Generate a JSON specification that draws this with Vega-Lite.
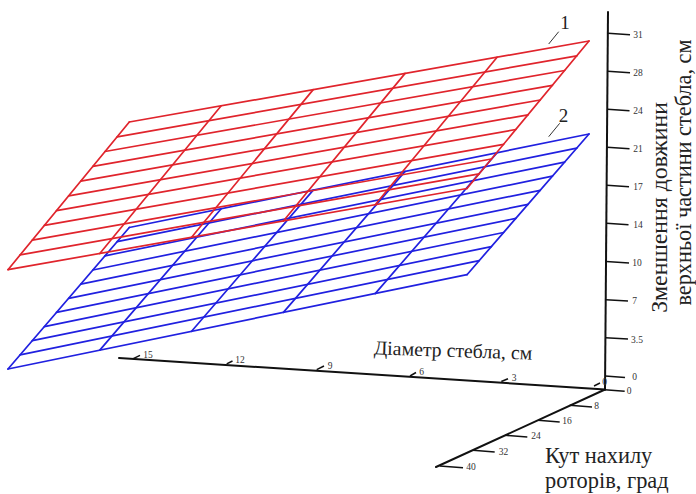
{
"$schema":"https://vega.github.io/schema/vega-lite/v6.json",
"width":696,"height":494,"autosize":{"type":"none"},"padding":0,
"background":"white","view":{"stroke":null},
"datasets":{
"grid":[
{"surface":"2","h":129.3,"v":227.5,"h2":589,"v2":134},
{"surface":"2","h":117.2,"v":241.7,"h2":576.8,"v2":148.1},
{"surface":"2","h":105,"v":255.8,"h2":564.6,"v2":162.1},
{"surface":"2","h":92.9,"v":270,"h2":552.4,"v2":176.2},
{"surface":"2","h":80.8,"v":284.1,"h2":540.2,"v2":190.3},
{"surface":"2","h":68.7,"v":298.3,"h2":528,"v2":204.4},
{"surface":"2","h":56.5,"v":312.4,"h2":515.8,"v2":218.4},
{"surface":"2","h":44.4,"v":326.6,"h2":503.6,"v2":232.5},
{"surface":"2","h":32.3,"v":340.7,"h2":491.4,"v2":246.6},
{"surface":"2","h":20.1,"v":354.9,"h2":479.2,"v2":260.6},
{"surface":"2","h":8,"v":369,"h2":467,"v2":274.7},
{"surface":"2","h":129.3,"v":227.5,"h2":8,"v2":369},
{"surface":"2","h":221.2,"v":208.8,"h2":99.8,"v2":350.1},
{"surface":"2","h":313.2,"v":190.1,"h2":191.6,"v2":331.3},
{"surface":"2","h":405.1,"v":171.4,"h2":283.4,"v2":312.4},
{"surface":"2","h":497.1,"v":152.7,"h2":375.2,"v2":293.6},
{"surface":"2","h":589,"v":134,"h2":467,"v2":274.7},
{"surface":"1","h":129.3,"v":122,"h2":589,"v2":41},
{"surface":"1","h":117.2,"v":136.8,"h2":576.8,"v2":55.8},
{"surface":"1","h":105,"v":151.5,"h2":564.6,"v2":70.5},
{"surface":"1","h":92.9,"v":166.3,"h2":552.4,"v2":85.3},
{"surface":"1","h":80.8,"v":181.1,"h2":540.2,"v2":100},
{"surface":"1","h":68.7,"v":195.9,"h2":528,"v2":114.8},
{"surface":"1","h":56.5,"v":210.6,"h2":515.8,"v2":129.5},
{"surface":"1","h":44.4,"v":225.4,"h2":503.6,"v2":144.3},
{"surface":"1","h":32.3,"v":240.2,"h2":491.4,"v2":159},
{"surface":"1","h":20.1,"v":254.9,"h2":479.2,"v2":173.8},
{"surface":"1","h":8,"v":269.7,"h2":467,"v2":188.5},
{"surface":"1","h":129.3,"v":122,"h2":8,"v2":269.7},
{"surface":"1","h":221.2,"v":105.8,"h2":99.8,"v2":253.5},
{"surface":"1","h":313.2,"v":89.6,"h2":191.6,"v2":237.2},
{"surface":"1","h":405.1,"v":73.4,"h2":283.4,"v2":221},
{"surface":"1","h":497.1,"v":57.2,"h2":375.2,"v2":204.7},
{"surface":"1","h":589,"v":41,"h2":467,"v2":188.5}
],
"axes":[
{"h":605,"v":389.5,"h2":608,"v2":12},
{"h":605,"v":389.5,"h2":119,"v2":358},
{"h":605,"v":389.5,"h2":436,"v2":467}
],
"ticks":[
{"h":608,"v":33.3,"h2":630,"v2":34.7},
{"h":607.7,"v":71.3,"h2":630,"v2":72.7},
{"h":607.4,"v":109.3,"h2":629.5,"v2":110.7},
{"h":607.1,"v":147.3,"h2":629.5,"v2":148.7},
{"h":606.8,"v":185.3,"h2":629,"v2":186.7},
{"h":606.5,"v":223.3,"h2":628.5,"v2":224.7},
{"h":606.2,"v":261.6,"h2":629,"v2":263},
{"h":605.9,"v":299.8,"h2":628,"v2":301},
{"h":605.6,"v":337.8,"h2":628,"v2":339},
{"h":605.2,"v":376,"h2":625,"v2":377.5},
{"h":133.3,"v":358.7,"h2":140,"v2":355.3},
{"h":226.7,"v":363.9,"h2":232.5,"v2":361},
{"h":316.7,"v":369.7,"h2":324,"v2":366},
{"h":410,"v":376,"h2":416,"v2":372.5},
{"h":501.3,"v":381.5,"h2":508,"v2":378.7},
{"h":594,"v":386,"h2":600,"v2":383},
{"h":604.7,"v":389.7,"h2":624.7,"v2":391.3},
{"h":569.7,"v":405.3,"h2":592,"v2":407},
{"h":538,"v":420.3,"h2":559.7,"v2":422},
{"h":505,"v":435.3,"h2":527.3,"v2":437},
{"h":473,"v":450.3,"h2":494.7,"v2":452},
{"h":439.7,"v":466,"h2":463,"v2":467.7}
],
"leaders":[
{"h":548.7,"v":44,"h2":558.7,"v2":31.7},
{"h":548.7,"v":136.7,"h2":559.7,"v2":123.3}
],
"tickLabels":[
{"h":638,"v":35,"t":"31"},{"h":638,"v":73,"t":"28"},{"h":638,"v":111,"t":"24"},{"h":638,"v":149,"t":"21"},{"h":638,"v":187,"t":"17"},{"h":638,"v":225,"t":"14"},{"h":637,"v":263,"t":"10"},{"h":634.5,"v":301,"t":"7"},{"h":637,"v":340,"t":"3.5"},{"h":634.5,"v":377,"t":"0"},
{"h":148,"v":355,"t":"15"},{"h":240,"v":360,"t":"12"},{"h":330,"v":366,"t":"9"},{"h":421.5,"v":371.5,"t":"6"},{"h":514,"v":378,"t":"3"},{"h":604.5,"v":382,"t":"0"},
{"h":629,"v":391,"t":"0"},{"h":596.5,"v":406,"t":"8"},{"h":567,"v":421,"t":"16"},{"h":536,"v":436,"t":"24"},{"h":503.5,"v":451.5,"t":"32"},{"h":471,"v":466.5,"t":"40"}
],
"surfaceLabels":[{"h":565,"v":23,"t":"1"},{"h":563.5,"v":116,"t":"2"}],
"zTitleA":[{"h":660,"v":207.5,"t":"Зменшення довжини"}],
"zTitleB":[{"h":684,"v":172.5,"t":"верхньої частини стебла, см"}],
"dTitle":[{"h":453,"v":351,"t":"Діаметр стебла, см"}],
"aTitle":[{"h":545,"v":456,"t":"Кут нахилу"},{"h":545,"v":481,"t":"роторів, град"}]
},
"encoding":{
"x":{"field":"h","type":"quantitative","scale":{"domain":[0,696],"nice":false,"zero":false},"axis":null},
"y":{"field":"v","type":"quantitative","scale":{"domain":[494,0],"nice":false,"zero":false},"axis":null}
},
"layer":[
{"data":{"name":"grid"},"mark":{"type":"rule","strokeWidth":1.7,"strokeCap":"round"},
 "encoding":{"x2":{"field":"h2"},"y2":{"field":"v2"},
 "color":{"field":"surface","type":"nominal","scale":{"domain":["1","2"],"range":["#e0242c","#2020e0"]},"legend":null}}},
{"data":{"name":"axes"},"mark":{"type":"rule","strokeWidth":2,"color":"#111111","strokeCap":"round"},"encoding":{"x2":{"field":"h2"},"y2":{"field":"v2"}}},
{"data":{"name":"ticks"},"mark":{"type":"rule","strokeWidth":1.5,"color":"#111111"},"encoding":{"x2":{"field":"h2"},"y2":{"field":"v2"}}},
{"data":{"name":"leaders"},"mark":{"type":"rule","strokeWidth":1,"color":"#333333"},"encoding":{"x2":{"field":"h2"},"y2":{"field":"v2"}}},
{"data":{"name":"tickLabels"},"mark":{"type":"text","font":"Liberation Serif","fontSize":9.5,"color":"#333333","align":"center","baseline":"middle"},"encoding":{"text":{"field":"t"}}},
{"data":{"name":"surfaceLabels"},"mark":{"type":"text","font":"Liberation Serif","fontSize":19,"color":"#222222","align":"center","baseline":"middle"},"encoding":{"text":{"field":"t"}}},
{"data":{"name":"zTitleA"},"mark":{"type":"text","font":"Liberation Serif","fontSize":23.8,"color":"#222222","align":"center","baseline":"middle","angle":270},"encoding":{"text":{"field":"t"}}},
{"data":{"name":"zTitleB"},"mark":{"type":"text","font":"Liberation Serif","fontSize":22.3,"color":"#222222","align":"center","baseline":"middle","angle":270},"encoding":{"text":{"field":"t"}}},
{"data":{"name":"dTitle"},"mark":{"type":"text","font":"Liberation Serif","fontSize":19.8,"color":"#222222","align":"center","baseline":"middle","angle":2},"encoding":{"text":{"field":"t"}}},
{"data":{"name":"aTitle"},"mark":{"type":"text","font":"Liberation Serif","fontSize":22.4,"color":"#222222","align":"left","baseline":"middle"},"encoding":{"text":{"field":"t"}}}
]
}
